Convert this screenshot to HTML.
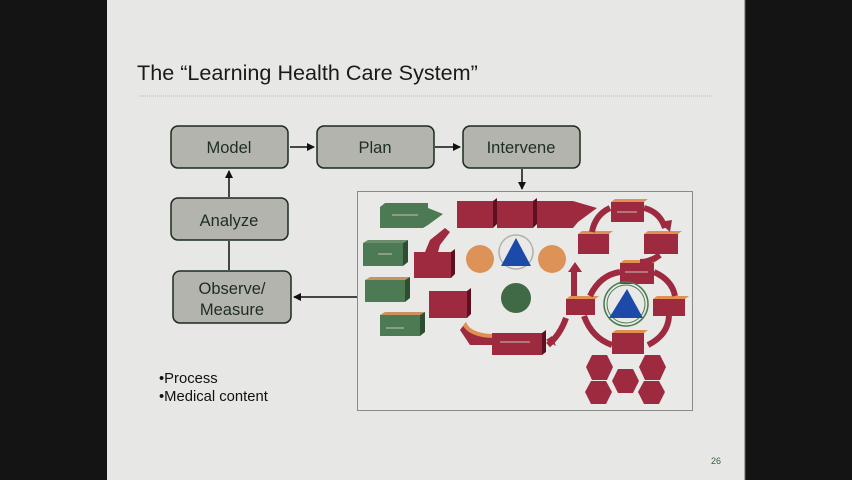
<!DOCTYPE html>
<html><head><meta charset="utf-8"><style>
html,body{margin:0;padding:0;background:#141414;}
svg{display:block}
text{font-family:"Liberation Sans",sans-serif}
</style></head><body>
<svg width="852" height="480" viewBox="0 0 852 480" xmlns="http://www.w3.org/2000/svg">
<defs>
<marker id="ah" markerWidth="8" markerHeight="8" refX="7" refY="4" orient="auto" markerUnits="userSpaceOnUse"><path d="M0,0 L8,4 L0,8 z" fill="#111"/></marker>
</defs>
<rect x="0" y="0" width="852" height="480" fill="#141414"/>
<rect x="107" y="0" width="638" height="480" fill="#e7e8e5"/>
<line x1="745" y1="0" x2="745" y2="480" stroke="#5a6b5a" stroke-width="1"/>
<text x="137" y="80" font-size="21.6" fill="#1a1a1a">The “Learning Health Care System”</text>
<line x1="139" y1="96" x2="712" y2="96" stroke="#b8b8b4" stroke-width="1" stroke-dasharray="1,1"/>

<g fill="#b4b4ae" stroke="#1d2a1d" stroke-width="1.5">
<rect x="171" y="126" width="117" height="42" rx="7"/>
<rect x="317" y="126" width="117" height="42" rx="7"/>
<rect x="463" y="126" width="117" height="42" rx="7"/>
<rect x="171" y="198" width="117" height="42" rx="7"/>
<rect x="173" y="271" width="118" height="52" rx="7"/>
</g>
<g font-size="16.5" fill="#1e2e1e" text-anchor="middle">
<text x="229" y="153">Model</text>
<text x="375" y="153">Plan</text>
<text x="521" y="153">Intervene</text>
<text x="229" y="226">Analyze</text>
<text x="232" y="294">Observe/</text>
<text x="232" y="315">Measure</text>
</g>
<g stroke="#111" stroke-width="1.5" fill="none">
<line x1="290" y1="147" x2="314" y2="147" marker-end="url(#ah)"/>
<line x1="435" y1="147" x2="460" y2="147" marker-end="url(#ah)"/>
<line x1="229" y1="197" x2="229" y2="171" marker-end="url(#ah)"/>
<line x1="229" y1="270" x2="229" y2="241"/>
<line x1="522" y1="169" x2="522" y2="189" marker-end="url(#ah)"/>
<line x1="357" y1="297" x2="294" y2="297" marker-end="url(#ah)"/>
</g>
<text x="159" y="383" font-size="14.8" fill="#111">•Process</text>
<text x="159" y="401" font-size="14.8" fill="#111">•Medical content</text>
<text x="711" y="464" font-size="9" fill="#3a5a3a">26</text>

<rect x="357.5" y="191.5" width="335" height="219" fill="#e9eae7" stroke="#8a8a86" stroke-width="1"/>

<g>
<path d="M380,207 L385,203 L428,203 L428,208 L443,214 L428,225 L423,228 L380,228 z" fill="#4c7a52"/>
<path d="M403,243 L408,240 L408,262 L403,266 z" fill="#2e4e32"/>
<rect x="363" y="243" width="40" height="23" fill="#4c7a52"/>
<path d="M363,243 L368,240 L408,240 L403,243 z" fill="#6a8e6c"/>
<rect x="365" y="280" width="40" height="22" fill="#4c7a52"/>
<path d="M365,280 L370,277 L410,277 L405,280 z" fill="#c99060"/>
<path d="M405,280 L410,277 L410,298 L405,302 z" fill="#2e4e32"/>
<rect x="380" y="315" width="40" height="21" fill="#4c7a52"/>
<path d="M380,315 L385,312 L425,312 L420,315 z" fill="#c99060"/>
<path d="M420,315 L425,312 L425,332 L420,336 z" fill="#2e4e32"/>
</g>
<g fill="#9e2a40">
<rect x="457" y="201" width="36" height="27"/><path d="M493,201 L497,198 L497,224 L493,228z" fill="#5e1020"/>
<rect x="497" y="201" width="36" height="27"/><path d="M533,201 L537,198 L537,224 L533,228z" fill="#5e1020"/>
<rect x="537" y="201" width="36" height="27"/><path d="M573,201 L597,208 L578,222 L573,228z"/>
<path d="M425,252 L430,240 L445,228 L450,232 L440,245 L438,252z"/>
<rect x="414" y="252" width="37" height="26"/><path d="M451,252 L455,249 L455,274 L451,278z" fill="#5e1020"/>
<rect x="429" y="291" width="38" height="27"/><path d="M467,291 L471,288 L471,314 L467,318z" fill="#5e1020"/>
<rect x="492" y="333" width="50" height="22"/><path d="M542,333 L546,330 L546,352 L542,355z" fill="#5e1020"/>
<path d="M492,336 Q468,335 466,322 L460,330 L470,345 Q480,345 492,345z"/>
<path d="M466,322 Q470,333 492,334 L492,338 Q470,337 463,326z" fill="#e09050"/>
<rect x="611" y="202" width="33" height="20"/><path d="M611,202 L615,199 L648,199 L644,202z" fill="#e09050"/>
<rect x="578" y="234" width="31" height="20"/><path d="M578,234 L582,231 L613,231 L609,234z" fill="#e09050"/>
<rect x="644" y="234" width="34" height="20"/><path d="M644,234 L648,231 L682,231 L678,234z" fill="#e09050"/>
<rect x="620" y="263" width="34" height="21"/><path d="M620,263 L624,260 L658,260 L654,263z" fill="#e09050"/>
<rect x="566" y="299" width="29" height="16"/><path d="M566,299 L570,296 L599,296 L595,299z" fill="#e09050"/>
<rect x="653" y="299" width="32" height="17"/><path d="M653,299 L657,296 L689,296 L685,299z" fill="#e09050"/>
<rect x="612" y="333" width="32" height="21"/><path d="M612,333 L616,330 L648,330 L644,333z" fill="#e09050"/>
</g>
<g fill="none" stroke="#9e2a40" stroke-width="6">
<path d="M644,208 Q660,212 665,228"/>
<path d="M610,208 Q595,215 592,232"/>
<path d="M660,255 Q650,262 640,262"/>
<path d="M654,272 Q672,280 675,296"/>
<path d="M669,316 Q668,335 648,345"/>
<path d="M612,345 Q592,338 584,316"/>
<path d="M620,272 Q600,275 590,296"/>
<path d="M574,296 L574,270"/>
<path d="M566,318 Q560,335 548,345"/>
</g>
<g fill="#9e2a40">
<path d="M575,262 L568,272 L582,272z"/>
<path d="M659,222 L670,232 L672,220z"/>
<path d="M546,340 L556,346 L552,336z"/>
</g>
<circle cx="480" cy="259" r="14" fill="#dd9358"/>
<circle cx="552" cy="259" r="14" fill="#dd9358"/>
<circle cx="516" cy="252" r="17" fill="none" stroke="#b0b0ac" stroke-width="1.5"/>
<path d="M516,238 L531,266 L501,266z" fill="#1c4aa8"/>
<circle cx="516" cy="298" r="15" fill="#3f6a45"/>
<circle cx="626" cy="304" r="22" fill="none" stroke="#4a7a50" stroke-width="1.5"/>
<circle cx="626" cy="304" r="19" fill="none" stroke="#4a7a50" stroke-width="1"/>
<path d="M627,289 L643,318 L609,318z" fill="#1c4aa8"/>
<g fill="#9e2a40">
<path d="M592,355 L607,355 L613,367 L607,380 L592,380 L586,367z"/>
<path d="M618,369 L633,369 L639,381 L633,393 L618,393 L612,381z"/>
<path d="M645,355 L660,355 L666,367 L660,380 L645,380 L639,367z"/>
<path d="M591,381 L606,381 L612,392 L606,404 L591,404 L585,392z"/>
<path d="M644,381 L659,381 L665,392 L659,404 L644,404 L638,392z"/>
</g>
<g stroke="#c8c0b8" stroke-width="1">
<line x1="392" y1="215" x2="418" y2="215"/>
<line x1="378" y1="254" x2="392" y2="254"/>
<line x1="386" y1="328" x2="404" y2="328"/>
<line x1="500" y1="342" x2="530" y2="342"/>
<line x1="617" y1="212" x2="637" y2="212"/>
<line x1="625" y1="272" x2="648" y2="272"/>
</g>
</svg>
</body></html>
